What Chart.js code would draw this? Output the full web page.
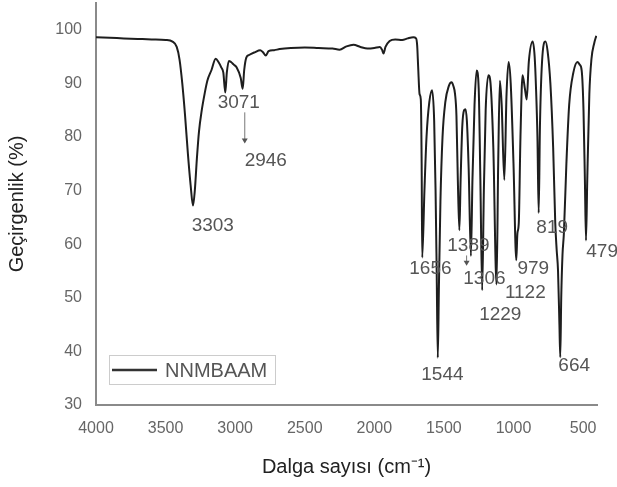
<!DOCTYPE html>
<html>
<head>
<meta charset="utf-8">
<script src="https://cdn.jsdelivr.net/npm/chart.js@4.4.0/dist/chart.umd.min.js"></script>
<style>
    html, body { margin: 0; padding: 0; background: #fff; }
    #wrap { width: 617px; height: 487px; }
</style>
</head>
<body>
<div id="wrap"><canvas id="irChart"></canvas></div>
<script>
// Spectrum (wavenumber cm-1 -> transmittance %)
const wavenumbers = [
    4000, 3900, 3800, 3700, 3600, 3500, 3450, 3420, 3400, 3380, 3360, 3340, 3320, 3303, 3290, 3275,
    3260, 3240, 3220, 3200, 3170, 3140, 3120, 3100, 3085, 3071, 3060, 3045, 3030, 3010, 2990, 2960,
    2946, 2935, 2920, 2900, 2860, 2820, 2800, 2780, 2760, 2720, 2680, 2600, 2500, 2400, 2300, 2250,
    2200, 2150, 2100, 2050, 2000, 1960, 1945, 1934, 1920, 1890, 1850, 1800, 1760, 1720, 1700, 1692,
    1685, 1675, 1666, 1660, 1656, 1640, 1625, 1605, 1585, 1570, 1560, 1552, 1544, 1536, 1525, 1510,
    1490, 1465, 1445, 1432, 1420, 1410, 1400, 1389, 1380, 1368, 1355, 1345, 1335, 1322, 1306, 1295,
    1280, 1265, 1250, 1238, 1225, 1213, 1200, 1180, 1165, 1145, 1122, 1110, 1098, 1085, 1066, 1050,
    1035, 1020, 1000, 980, 972, 962, 950, 935, 918, 905, 890, 862, 848, 838, 828, 819,
    810, 795, 770, 755, 735, 715, 700, 690, 680, 670, 664, 657, 648, 638, 620, 600,
    570, 540, 525, 510, 497, 487, 479, 470, 455, 440, 420, 405
];
const transmittance = [
    98.6, 98.5, 98.4, 98.3, 98.2, 98.1, 97.8, 96.8, 94.5, 90, 84, 77, 71, 67.2, 70, 76,
    81, 85, 88, 90.5, 92.5, 94.6, 94, 93, 92, 88.3, 92, 94.2, 94, 93.5, 93, 91,
    89, 92.5, 94.8, 95.3, 95.8, 96.2, 95.8, 95.2, 96, 96.2, 96.4, 96.6, 96.7, 96.6, 96.5, 96.3,
    96.9, 97.2, 96.8, 96.5, 96.6, 96.8, 96.3, 95.6, 96.8, 97.9, 98.2, 98.1, 98.4, 98.6, 98.4, 97,
    93, 88, 87, 75, 57.5, 70, 80, 86.5, 88.7, 83, 70, 55, 38.8, 52, 68, 80,
    86.5, 89.5, 90.2, 89.5, 88, 84, 72, 62.6, 72, 82, 85, 85.2, 83, 74, 57.8, 72,
    86, 92.4, 89, 72, 51.4, 70, 85, 91.5, 90, 78, 52.5, 75, 90.5, 86, 72, 88,
    94, 90, 75, 57, 62, 64, 80, 91.5, 89, 87, 94, 97.8, 95, 89, 80, 65.8,
    82, 94, 97.8, 96, 90, 78, 64, 59, 55, 45, 38.9, 50, 58, 62, 75, 86,
    92, 94, 93.5, 92.4, 85, 72, 60.7, 72, 88, 94.5, 97.5, 98.9
];
const xTicks = [4000, 3500, 3000, 2500, 2000, 1500, 1000, 500];
const yTicks = [30, 40, 50, 60, 70, 80, 90, 100];

// Peak labels: text and where it sits (in data units)
const peakText = ['3303', '3071', '2946', '1656', '1389', '1306', '1229', '1122', '979', '819', '664', '1544', '479'];
const peakX = [3161, 2974, 2780, 1597, 1324, 1209, 1095, 915, 858, 722, 564, 1511, 363];
const peakY = [63.5, 86.4, 75.6, 55.5, 59.8, 53.6, 46.8, 50.9, 55.5, 63, 37.4, 35.6, 58.5];

// Small arrows: [x, yFrom, yTo]
const arrows = [[2931, 84.6, 78.8], [1337, 57.9, 56.0]];

// Draws peak labels, arrows and the boxed legend
const annotatePlugin = {
    id: 'annotate',
    afterDatasetsDraw(chart) {
        const ctx = chart.ctx;
        const xs = chart.scales.x;
        const ys = chart.scales.y;
        ctx.save();
        ctx.fillStyle = '#555';
        ctx.font = '19px "Liberation Sans", Arial, sans-serif';
        ctx.textAlign = 'center';
        ctx.textBaseline = 'middle';
        peakText.forEach((t, i) => {
            ctx.fillText(t, xs.getPixelForValue(peakX[i]), ys.getPixelForValue(peakY[i]));
        });

        ctx.strokeStyle = '#777';
        ctx.fillStyle = '#555';
        ctx.lineWidth = 1;
        arrows.forEach(a => {
            const px = xs.getPixelForValue(a[0]);
            const y1 = ys.getPixelForValue(a[1]);
            const y2 = ys.getPixelForValue(a[2]);
            ctx.beginPath();
            ctx.moveTo(px, y1);
            ctx.lineTo(px, y2 - 4);
            ctx.stroke();
            ctx.beginPath();
            ctx.moveTo(px - 3, y2 - 5);
            ctx.lineTo(px + 3, y2 - 5);
            ctx.lineTo(px, y2);
            ctx.closePath();
            ctx.fill();
        });

        // legend box
        const area = chart.chartArea;
        const bx = area.left + 13, by = area.bottom - 50;
        ctx.strokeStyle = '#ccc';
        ctx.lineWidth = 1;
        ctx.strokeRect(bx + 0.5, by + 0.5, 166, 29);
        ctx.strokeStyle = '#333';
        ctx.lineWidth = 2.5;
        ctx.beginPath();
        ctx.moveTo(bx + 3, by + 15);
        ctx.lineTo(bx + 48, by + 15);
        ctx.stroke();
        ctx.fillStyle = '#555';
        ctx.font = '20px "Liberation Sans", Arial, sans-serif';
        ctx.textAlign = 'left';
        ctx.fillText(chart.data.datasets[0].label, bx + 56, by + 16);
        ctx.restore();
    }
};

const ctx = document.getElementById('irChart').getContext('2d');
new Chart(ctx, {
    type: 'line',
    data: {
        datasets: [{
            label: 'NNMBAAM',
            data: wavenumbers.map((w, i) => ({ x: w, y: transmittance[i] })),
            borderColor: '#1e1e1e',
            borderWidth: 2,
            pointRadius: 0,
            cubicInterpolationMode: 'monotone',
            fill: false
        }]
    },
    options: {
        responsive: true,
        maintainAspectRatio: false,
        animation: false,
        layout: { padding: { top: 3, right: 20, left: 0, bottom: 0 } },
        plugins: {
            legend: { display: false },
            tooltip: { enabled: false }
        },
        scales: {
            x: {
                type: 'linear',
                reverse: true,
                min: 400,
                max: 4000,
                grid: { display: false, drawTicks: false },
                border: { display: true, color: '#8a8a8a', width: 2 },
                afterBuildTicks: s => { s.ticks = xTicks.map(v => ({ value: v })); },
                afterFit: s => { s.height = 82; s.paddingLeft = 0; s.paddingRight = 0; },
                ticks: {
                    color: '#666',
                    padding: 14,
                    maxRotation: 0,
                    autoSkip: false,
                    callback: v => String(v),
                    font: { family: '"Liberation Sans", Arial, sans-serif', size: 16 }
                },
                title: {
                    display: true,
                    text: 'Dalga sayısı (cm⁻¹)',
                    color: '#222',
                    padding: { top: 0, bottom: 8 },
                    font: { family: '"Liberation Sans", Arial, sans-serif', size: 20 }
                }
            },
            y: {
                min: 30,
                max: 105,
                grid: { display: false, drawTicks: false },
                border: { display: true, color: '#8a8a8a', width: 2 },
                afterBuildTicks: s => { s.ticks = yTicks.map(v => ({ value: v })); },
                afterFit: s => { s.width = 96; s.paddingTop = 0; s.paddingBottom = 0; },
                ticks: {
                    color: '#666',
                    padding: 14,
                    callback: v => String(v),
                    font: { family: '"Liberation Sans", Arial, sans-serif', size: 16 }
                },
                title: {
                    display: true,
                    text: 'Geçirgenlik (%)',
                    color: '#222',
                    padding: { top: 5, bottom: 0 },
                    font: { family: '"Liberation Sans", Arial, sans-serif', size: 20 }
                }
            }
        }
    },
    plugins: [annotatePlugin]
});
</script>
</body>
</html>
